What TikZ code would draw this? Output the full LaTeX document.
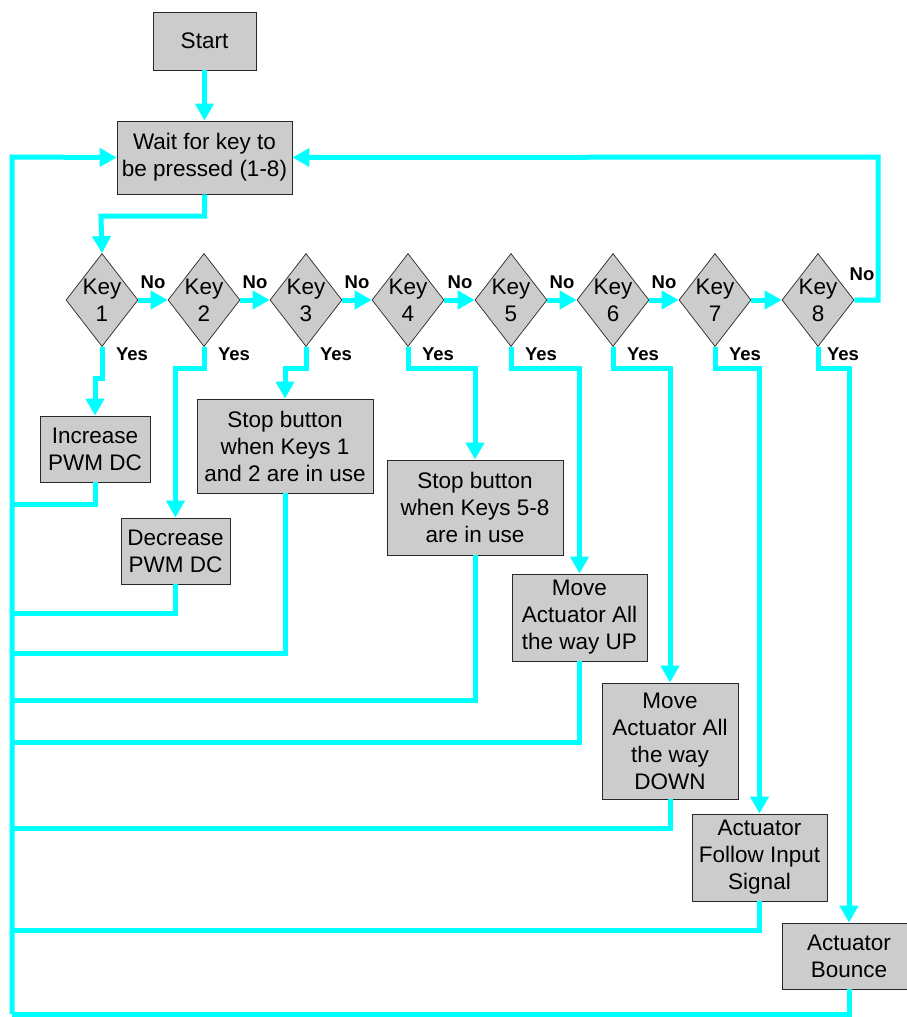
\documentclass[tikz,border=0pt]{standalone}
\usepackage{fontspec}
\setmainfont{Liberation Sans}
\usetikzlibrary{arrows.meta,shapes.geometric}
\definecolor{flow}{RGB}{0,255,255}
\definecolor{boxfill}{RGB}{204,204,204}
\definecolor{boxline}{RGB}{40,40,40}
\begin{document}
\begin{tikzpicture}[x=1pt,y=-1pt,
  procbox/.style={draw=boxline,line width=0.9pt,fill=boxfill,inner sep=0pt,align=center,
    font=\fontsize{22.5}{27}\selectfont},
  decision/.style={draw=boxline,line width=0.7pt,fill=boxfill,diamond,inner sep=0pt,
    minimum width=72pt,minimum height=93pt,
    label={[font=\fontsize{22.5}{27}\selectfont,align=center]center:#1}},
  flowline/.style={draw=flow,line width=5pt},
  flowarrow/.style={flowline,-{Triangle[length=17pt,width=18pt]}},
  answer/.style={font=\bfseries\fontsize{18.5}{20}\selectfont,inner sep=0pt}
]
\useasboundingbox (0,0) rectangle (907,1017);
\fill[white] (0,0) rectangle (907,1017);

% process boxes
\node[procbox,minimum width=103pt,minimum height=58pt] (start) at (204.5,41) {Start};
\node[procbox,minimum width=175pt,minimum height=73pt] (wait) at (204.5,157.5) {Wait for key to\\be pressed (1-8)};
\node[procbox,minimum width=110pt,minimum height=66pt] (inc) at (95,449) {Increase\\PWM DC};
\node[procbox,minimum width=109pt,minimum height=66pt] (dec) at (175.5,551) {Decrease\\PWM DC};
\node[procbox,minimum width=176pt,minimum height=94pt] (stopa) at (285,446) {Stop button\\when Keys 1\\and 2 are in use};
\node[procbox,minimum width=176pt,minimum height=95pt] (stopb) at (475,507.5) {Stop button\\when Keys 5-8\\are in use};
\node[procbox,minimum width=135pt,minimum height=87pt] (up) at (579.5,617.5) {Move\\Actuator All\\the way UP};
\node[procbox,minimum width=136pt,minimum height=116pt] (down) at (670,741) {Move\\Actuator All\\the way\\DOWN};
\node[procbox,minimum width=135pt,minimum height=87pt] (follow) at (759.5,857.5) {Actuator\\Follow Input\\Signal};
\node[procbox,minimum width=134pt,minimum height=66pt] (bounce) at (849,956) {Actuator\\Bounce};

% decisions
\node[decision={Key\\1}] (k1) at (102,300) {};
\node[decision={Key\\2}] (k2) at (204,300) {};
\node[decision={Key\\3}] (k3) at (306,300) {};
\node[decision={Key\\4}] (k4) at (408,300) {};
\node[decision={Key\\5}] (k5) at (511,300) {};
\node[decision={Key\\6}] (k6) at (613,300) {};
\node[decision={Key\\7}] (k7) at (715,300) {};
\node[decision={Key\\8}] (k8) at (818,300) {};

% return rail and corner points
\coordinate (railtop) at (12,157);
\coordinate (railbot) at (12,1014);
\coordinate (loopr) at (878,157);

% main sequence
\draw[flowarrow] (start.south) -- (wait.north);
\draw[flowarrow] (wait.south) |- (101,216) -- (k1.north);
\draw[flowarrow] (k1.east) -- (k2.west);
\draw[flowarrow] (k2.east) -- (k3.west);
\draw[flowarrow] (k3.east) -- (k4.west);
\draw[flowarrow] (k4.east) -- (k5.west);
\draw[flowarrow] (k5.east) -- (k6.west);
\draw[flowarrow] (k6.east) -- (k7.west);
\draw[flowarrow] (k7.east) -- (k8.west);
\draw[flowarrow] (k8.east) -| (loopr) -- (wait.east);

% yes branches
\draw[flowarrow] (k1.south) |- (95,378) -- (inc.north);
\draw[flowarrow] (k2.south) |- (175.5,368) -- (dec.north);
\draw[flowarrow] (k3.south) |- (285,368) -- (stopa.north);
\draw[flowarrow] (k4.south) |- (475,368) -- (stopb.north);
\draw[flowarrow] (k5.south) |- (579.5,368) -- (up.north);
\draw[flowarrow] (k6.south) |- (670,368) -- (down.north);
\draw[flowarrow] (k7.south) |- (759.5,368) -- (follow.north);
\draw[flowarrow] (k8.south) |- (849,368) -- (bounce.north);

% returns to the waiting state
\draw[flowarrow] (railbot) -- (railtop) -- (wait.west);
\draw[flowline] (inc.south) |- (12,504);
\draw[flowline] (dec.south) |- (12,613);
\draw[flowline] (stopa.south) |- (12,653);
\draw[flowline] (stopb.south) |- (12,700);
\draw[flowline] (up.south) |- (12,742);
\draw[flowline] (down.south) |- (12,828);
\draw[flowline] (follow.south) |- (12,930);
\draw[flowline] (bounce.south) |- (railbot);

% branch labels
\node[answer] (n1) at (153,282) {No};
\node[answer] (n2) at (255,282) {No};
\node[answer] (n3) at (357,282) {No};
\node[answer] (n4) at (460,282) {No};
\node[answer] (n5) at (562,282) {No};
\node[answer] (n6) at (664,282) {No};
\node[answer] (n8) at (862,274) {No};
\node[answer] (y1) at (132,354) {Yes};
\node[answer] (y2) at (234,354) {Yes};
\node[answer] (y3) at (336,354) {Yes};
\node[answer] (y4) at (438,354) {Yes};
\node[answer] (y5) at (541,354) {Yes};
\node[answer] (y6) at (643,354) {Yes};
\node[answer] (y7) at (745,354) {Yes};
\node[answer] (y8) at (843,354) {Yes};
\end{tikzpicture}
\end{document}
